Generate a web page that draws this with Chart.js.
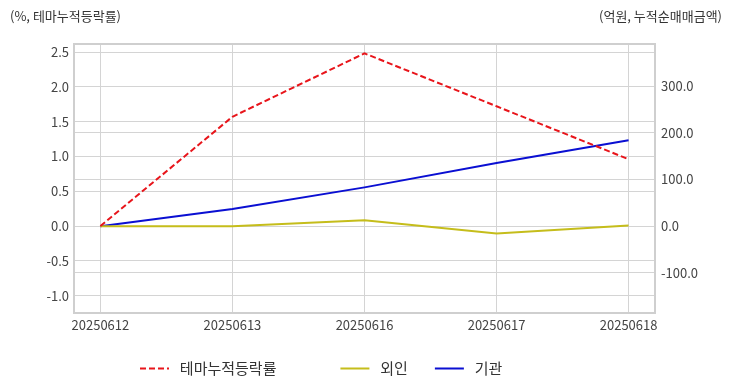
<!DOCTYPE html>
<html>
<head>
    <meta charset="utf-8">
    <title>테마누적등락률 / 외인 / 기관</title>
    <script src="https://cdn.jsdelivr.net/npm/chart.js"></script>
    <style>
        body{
            margin: 0;
            background: #fff;
            font-family: "Noto Sans CJK KR", "Noto Sans", sans-serif;
        }
        .wrap{
            position: relative;
            width: 732px;
            height: 392px;
        }
        .unit{
            position: absolute;
            top: 6px;
            font-size: 13px;
            color: #333;
            white-space: nowrap;
        }
        .unit.left{ left: 10px; }
        .unit.right{ right: 10px; }
    </style>
</head>
<body>
<div class="wrap">
    <div class="unit left">(%, 테마누적등락률)</div>
    <div class="unit right">(억원, 누적순매매금액)</div>
    <canvas id="themeChart"></canvas>
</div>
<script>
    // data
    const dates = ['20250612', '20250613', '20250616', '20250617', '20250618'];
    const themeRate = [0.0, 1.57, 2.48, 1.72, 0.96];   // %, left axis
    const foreign = [0.0, 0.0, 12.5, -15.5, 1.5];       // 억원, right axis
    const institution = [0.0, 36.5, 83.0, 135.0, 184.0];

    const FONT = '"Noto Sans CJK KR", "Noto Sans", sans-serif';
    const GRID = '#d4d4d4';

    const pts = arr => arr.map((v, i) => ({x: i, y: v}));

    // frame round the plot area
    const frame = {
        id: 'frame',
        afterDraw(chart) {
            const {ctx, chartArea: a} = chart;
            ctx.save();
            ctx.strokeStyle = '#cfcfcf';
            ctx.lineWidth = 2;
            ctx.strokeRect(a.left, a.top, a.right - a.left, a.bottom - a.top);
            ctx.restore();
        }
    };

    // move the legend row so it starts where the original one does
    const legendSpot = {
        id: 'legendSpot',
        afterLayout(chart) {
            const lg = chart.legend;
            const pad = lg.options.labels.padding;
            const startX = (lg.left + pad + lg.right - lg.lineWidths[0]) / 2;
            const dx = 140 - startX;
            lg.left += dx;
            lg.right += dx;
            lg.top -= 6;
            lg.bottom -= 6;
        }
    };

    const ctx = document.getElementById('themeChart').getContext('2d');
    const themeChart = new Chart(ctx, {
        type: 'line',
        data: {
            datasets: [{
                label: '테마누적등락률',
                data: pts(themeRate),
                yAxisID: 'y',
                borderColor: '#e8151b',
                backgroundColor: '#e8151b',
                borderDash: [6, 3],
                borderWidth: 2
            }, {
                label: '외인',
                data: pts(foreign),
                yAxisID: 'y1',
                borderColor: '#c5bd1b',
                backgroundColor: '#c5bd1b',
                borderWidth: 2
            }, {
                label: '기관',
                data: pts(institution),
                yAxisID: 'y1',
                borderColor: '#0a0fd2',
                backgroundColor: '#0a0fd2',
                borderWidth: 2
            }]
        },
        options: {
            responsive: true,
            maintainAspectRatio: false,
            animation: false,
            elements: {
                point: {radius: 0, hoverRadius: 0},
                line: {tension: 0}
            },
            layout: {padding: {top: 44, left: 0, right: 0, bottom: 0}},
            scales: {
                x: {
                    type: 'linear',
                    min: -0.2,
                    max: 4.2,
                    afterFit: s => { s.height = 27; },
                    grid: {color: GRID, drawTicks: false},
                    border: {display: false},
                    ticks: {
                        stepSize: 1,
                        includeBounds: false,
                        padding: 4,
                        color: '#444',
                        font: {family: FONT, size: 13},
                        callback: v => dates[v]
                    }
                },
                y: {
                    position: 'left',
                    min: -1.25,
                    max: 2.615,
                    afterFit: s => { s.width = 74; },
                    grid: {color: GRID, drawTicks: false},
                    border: {display: false},
                    ticks: {
                        stepSize: 0.5,
                        includeBounds: false,
                        padding: 5,
                        color: '#444',
                        font: {family: FONT, size: 13},
                        callback: v => v.toFixed(1)
                    }
                },
                y1: {
                    position: 'right',
                    min: -186,
                    max: 390,
                    afterFit: s => { s.width = 77; },
                    grid: {color: GRID, drawTicks: false},
                    border: {display: false},
                    ticks: {
                        stepSize: 100,
                        includeBounds: false,
                        padding: 6,
                        color: '#444',
                        font: {family: FONT, size: 13},
                        callback: v => v.toFixed(1)
                    }
                }
            },
            plugins: {
                legend: {
                    position: 'bottom',
                    labels: {
                        usePointStyle: true,
                        pointStyle: 'line',
                        pointStyleWidth: 29,
                        padding: 27,
                        color: '#333',
                        font: {family: FONT, size: 15},
                        generateLabels(chart) {
                            const items = Chart.defaults.plugins.legend.labels.generateLabels(chart);
                            items.forEach((it, i) => {
                                const ds = chart.data.datasets[it.datasetIndex];
                                it.lineDash = ds.borderDash || [];
                                it.lineWidth = ds.borderWidth;
                                it.strokeStyle = ds.borderColor;
                                // original legend has a wider gap after the first entry
                                it.text = ' ' + it.text + (i === 0 ? ' '.repeat(11) : '');
                            });
                            return items;
                        }
                    }
                },
                tooltip: {enabled: false}
            }
        },
        plugins: [frame, legendSpot]
    });
</script>
</body>
</html>
